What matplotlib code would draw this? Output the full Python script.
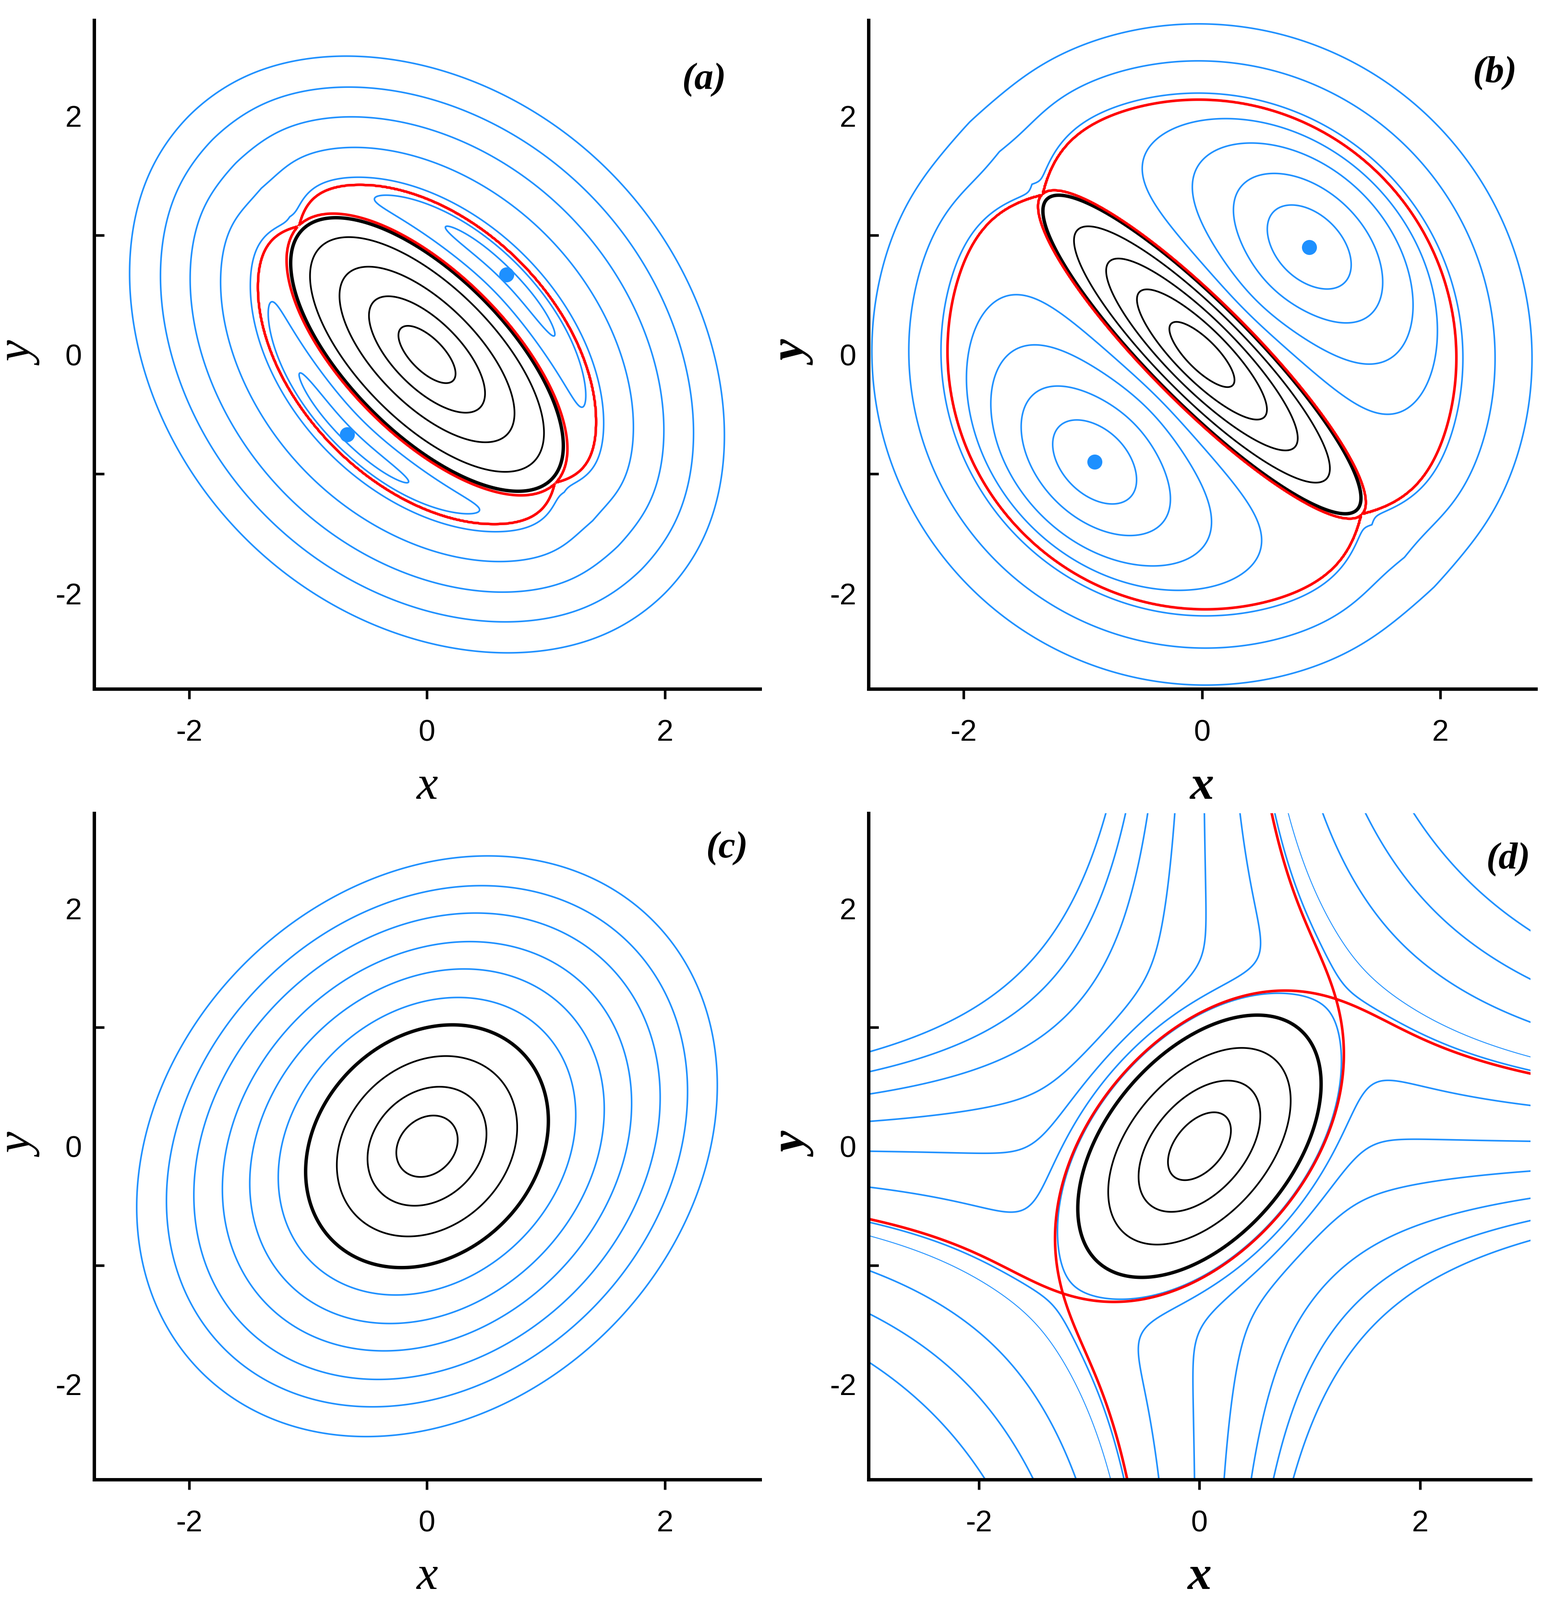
import numpy as np
import matplotlib
matplotlib.use("Agg")
import matplotlib.pyplot as plt

plt.rcParams["axes.unicode_minus"] = False

BLUE = "#1E90FF"
RED = "#FF0000"
TICK_FONT = ["Liberation Sans Narrow", "Liberation Sans", "DejaVu Sans"]
LABEL_FONT = ["Liberation Serif", "DejaVu Serif"]
SQ2 = np.sqrt(2.0)

# ---------------- values ----------------
# (a)
a_wells_x = [0.67, -0.67]
a_wells_y = [0.67, -0.67]
a_saddle = (-1.08, 1.075)
a_inner_u = 0.68                                # inner separatrix on y = x
a_outer_u = 1.10                                # outer separatrix on y = x
a_black_r = [0.31, 0.63, 0.95, 1.27]            # crossings on y = -x
a_thick_r = 1.48
a_lobe_r = [1.00, 1.07]                         # lobe rings on y = x
a_outer_x = [-2.50, -2.24, -1.99, -1.73, -1.48] # leftmost points of outer rings
a_outer_y = [0.67, 0.61, 0.57, 0.48, 0.46]

# (b)
b_wells_x = [0.90, -0.90]
b_wells_y = [0.90, -0.90]
b_saddle = (-1.34, 1.34)
b_inner_u = 0.43
b_outer_u = 2.12
b_black_r = [0.365, 0.741, 1.10, 1.476]
b_thick_r = 1.84
b_lobe_x = [1.23, 1.50, 1.74, 1.965]            # rightmost points of lobe rings
b_lobe_y = [0.648, 0.477, 0.19, 0.026]
b_outer_x = [-2.19, -2.46, -2.77]
b_outer_y = [0.0, 0.0, 0.0]

# (c) rightmost points of each ring
c_black_x = [0.258, 0.50, 0.758]
c_black_y = [0.055, 0.106, 0.149]
c_thick_x, c_thick_y = 1.02, 0.19
c_blue_x = [1.25, 1.49, 1.72, 1.96, 2.19, 2.44]
c_blue_y = [0.23, 0.32, 0.36, 0.40, 0.49, 0.55]

# (d)
d_black_r = [0.345, 0.667, 1.00]                # on y = x
d_thick_r = 1.34
d_top_y = 2.78
d_low_x = [1.125, 1.515, 1.955]                 # top-edge crossings right of separatrix
d_thin_x = 0.81
d_high_x = [-0.854, -0.674, -0.472, -0.225, 0.045, 0.37]
d_hug_gap = 0.08

# ---------------- model surfaces ----------------
def well_frac(wx, wy, inner, outer):
    return (np.hypot(wx[0], wy[0]) - inner) / (outer - inner)


a_par = dict(A=a_inner_u, B=np.hypot(*a_saddle), kappa=0.0, su=a_outer_u, sv=1.68,
             N=60, m=4.5, tw=well_frac(a_wells_x, a_wells_y, a_inner_u, a_outer_u), wv=1.08)
b_par = dict(A=b_inner_u, B=np.hypot(*b_saddle), kappa=0.26, su=b_outer_u, sv=2.15,
             N=40, m=2.0, tw=well_frac(b_wells_x, b_wells_y, b_inner_u, b_outer_u), wv=1.0)
c_par = dict(a2=1.53, b2=1.0)
d_par = dict(A=6.40, a2=2.5525, b2=1.2877, m=6)


def ell_param(u, v, A, B, kappa):
    # beta with u^2/alpha^2 + v^2/beta^2 = 1, alpha = A (beta/B)^(1-kappa)
    lo = np.full(u.shape, 1e-6)
    hi = np.full(u.shape, 60.0)
    for _ in range(60):
        mid = np.sqrt(lo * hi)
        al = A * (mid / B) ** (1 - kappa)
        big = (u / al) ** 2 + (v / mid) ** 2 > 1
        lo = np.where(big, mid, lo)
        hi = np.where(big, hi, mid)
    return np.sqrt(lo * hi)


def h_lobes(x, y, A, B, kappa, su, sv, N, m, tw, wv):
    x = np.asarray(x, dtype=float)
    y = np.asarray(y, dtype=float)
    u = (x + y) / SQ2
    v = (y - x) / SQ2
    r = np.hypot(u, v) + 1e-12
    c, s = u / r, v / r
    r_ell = 1 / np.sqrt(c**2 / A**2 + s**2 / B**2)
    r_sm = 1 / np.sqrt(c**2 / su**2 + s**2 / sv**2)
    dl = np.sqrt(np.clip(1 - np.abs(s) ** N, 0, 1))
    r_sep = r_sm - (r_sm - B) * (1 - dl)
    L = np.maximum(r_sep - r_ell, 1e-9)
    # island
    h_in = 1 - ell_param(u, v, A, B, kappa) / B
    # lobes
    g = (2 * tw - 1) / (tw * (2 - 3 * tw))
    t = np.clip((r - r_ell) / L, 0, 1)
    fmax = tw * (1 - tw) * (1 + g * tw)
    h_lobe = -(1 - np.abs(s) ** m) * t * (1 - t) * (1 + g * t) / fmax
    # outside: start on the separatrix, relax (rounded) to the smooth outline
    d = np.maximum(r - r_sep, 0)
    eps = d / 0.15
    k = 1 - (np.sqrt(dl**2 + eps**2) - eps) / (np.sqrt(1 + eps**2) - eps)
    r_ref = r_sm - (r_sm - B) * k * np.exp(-d / 0.4)
    e = (r - r_ref) / (c**2 + wv * s**2)
    h_out = e + e**2
    zone = np.where(r < r_ell, 0, np.where(r < r_sep, 1, 2))
    return np.select([zone == 0, zone == 1], [h_in, h_lobe], h_out), zone


def h_c(x, y, a2, b2):
    u = (x + y) / SQ2
    v = (y - x) / SQ2
    return u**2 / a2 + v**2 / b2


def h_d(x, y, A, a2, b2, m):
    u = (x + y) / SQ2
    v = (y - x) / SQ2
    Q = u**2 / a2 + v**2 / b2
    return A * Q / (1 + Q**m) ** (1.0 / m) - x * y


def diag(r, sign):
    r = np.asarray(r, dtype=float)
    return sign * r / SQ2, r / SQ2


gx = np.linspace(-3.3, 3.3, 1001)
X, Y = np.meshgrid(gx, gx)

fig = plt.figure(figsize=(3239 / 300, 3333 / 300), dpi=300)
boxes = {
    "a": [0.0604, 0.5696, 0.4284, 0.4177],
    "b": [0.5584, 0.5696, 0.4291, 0.4177],
    "c": [0.0604, 0.0754, 0.4284, 0.4164],
    "d": [0.5584, 0.0754, 0.4259, 0.4164],
}
tags = {"a": (0.916, 0.911), "b": (0.939, 0.921), "c": (0.95, 0.947), "d": (0.966, 0.93)}


def lines(ax, Z, levels, color, lw):
    levels = np.unique(np.round(np.ravel(levels), 12))
    ax.contour(X, Y, Z, levels=levels, colors=color, linewidths=lw, linestyles="solid")


def style(ax, key, xlim, bold):
    ax.set_xlim(*xlim)
    ax.set_ylim(-2.8, 2.8)
    for s in ["top", "right"]:
        ax.spines[s].set_visible(False)
    for s in ["left", "bottom"]:
        ax.spines[s].set_linewidth(1.7)
    ax.set_xticks([-2, 0, 2])
    ax.set_yticks([-2, 0, 2])
    ax.set_yticks([-1, 1], minor=True)
    ax.tick_params(axis="x", direction="out", length=5, width=1.3, pad=10)
    ax.tick_params(axis="y", which="major", length=0, pad=6)
    ax.tick_params(axis="y", which="minor", direction="in", length=5, width=1.3)
    for t in ax.get_xticklabels() + ax.get_yticklabels():
        t.set_fontfamily(TICK_FONT)
        t.set_fontsize(15)
    w = "bold" if bold else "normal"
    ax.set_xlabel("x", fontfamily=LABEL_FONT, style="italic", weight=w, fontsize=24)
    ax.set_ylabel("y", fontfamily=LABEL_FONT, style="italic", weight=w, fontsize=24)
    ax.xaxis.set_label_coords(0.5, -0.115)
    ax.yaxis.set_label_coords(-0.075, 0.5)
    ax.text(*tags[key], "(%s)" % key, transform=ax.transAxes, ha="center", va="center",
            fontfamily=LABEL_FONT, style="italic", weight="bold", fontsize=19)


# ---- (a) and (b): two lobes wrapped round a central island ----
for key, par, wx, wy, br, tr, bold in [
    ("a", a_par, a_wells_x, a_wells_y, a_black_r, a_thick_r, False),
    ("b", b_par, b_wells_x, b_wells_y, b_black_r, b_thick_r, True),
]:
    ax = fig.add_axes(boxes[key])
    Z, zone = h_lobes(X, Y, **par)
    inner = np.ma.masked_where(zone != 0, Z)
    outer = np.ma.masked_where(zone != 2, Z)
    black = h_lobes(*diag(br, -1), **par)[0]
    thick = h_lobes(*diag([tr], -1), **par)[0]
    if key == "a":
        lobe = h_lobes(*diag(a_lobe_r, 1), **par)[0]
        ring = h_lobes(a_outer_x, a_outer_y, **par)[0]
    else:
        lobe = h_lobes(b_lobe_x, b_lobe_y, **par)[0]
        ring = h_lobes(b_outer_x, b_outer_y, **par)[0]
    lines(ax, Z, lobe, BLUE, 0.8)
    lines(ax, outer, ring, BLUE, 0.8)
    lines(ax, inner, black, "black", 0.85)
    lines(ax, inner, thick, "black", 1.7)
    lines(ax, Z, [0.0], RED, 1.3)
    ax.plot(wx, wy, "o", color=BLUE, ms=7.5, mec="none", zorder=5)
    style(ax, key, (-2.8, 2.8), bold)

# ---- (c) ----
ax = fig.add_axes(boxes["c"])
Z = h_c(X, Y, **c_par)
lines(ax, Z, h_c(np.array(c_blue_x), np.array(c_blue_y), **c_par), BLUE, 0.8)
lines(ax, Z, h_c(np.array(c_black_x), np.array(c_black_y), **c_par), "black", 0.85)
lines(ax, Z, [h_c(c_thick_x, c_thick_y, **c_par)], "black", 1.7)
style(ax, "c", (-2.8, 2.8), False)

# ---- (d) ----
ax = fig.add_axes(boxes["d"])
Z = h_d(X, Y, **d_par)
rr = np.linspace(0.5, 3.0, 4001)
sep = h_d(*diag(rr, 1), **d_par).max()
zmax = np.full(X.shape, -np.inf)
for t in np.linspace(0, 1, 81)[1:]:
    zmax = np.maximum(zmax, h_d(t * X, t * Y, **d_par))
core = (zmax < sep) & (X**2 + Y**2 < 4.0)
inner = np.ma.masked_where(~core, Z)
outer = np.ma.masked_where(core, Z)
low = h_d(np.array(d_low_x), d_top_y, **d_par)
high = h_d(np.array(d_high_x), d_top_y, **d_par)
lines(ax, outer, low, BLUE, 0.8)
lines(ax, Z, high, BLUE, 0.8)
lines(ax, Z, [sep - d_hug_gap], BLUE, 0.8)
lines(ax, outer, [h_d(d_thin_x, d_top_y, **d_par)], BLUE, 0.45)
lines(ax, inner, h_d(*diag(d_black_r, 1), **d_par), "black", 0.85)
lines(ax, inner, [h_d(*diag([d_thick_r], 1), **d_par)], "black", 1.7)
lines(ax, Z, [sep], RED, 1.3)
style(ax, "d", (-3.0, 3.0), True)

fig.savefig("out.png", dpi=300)
